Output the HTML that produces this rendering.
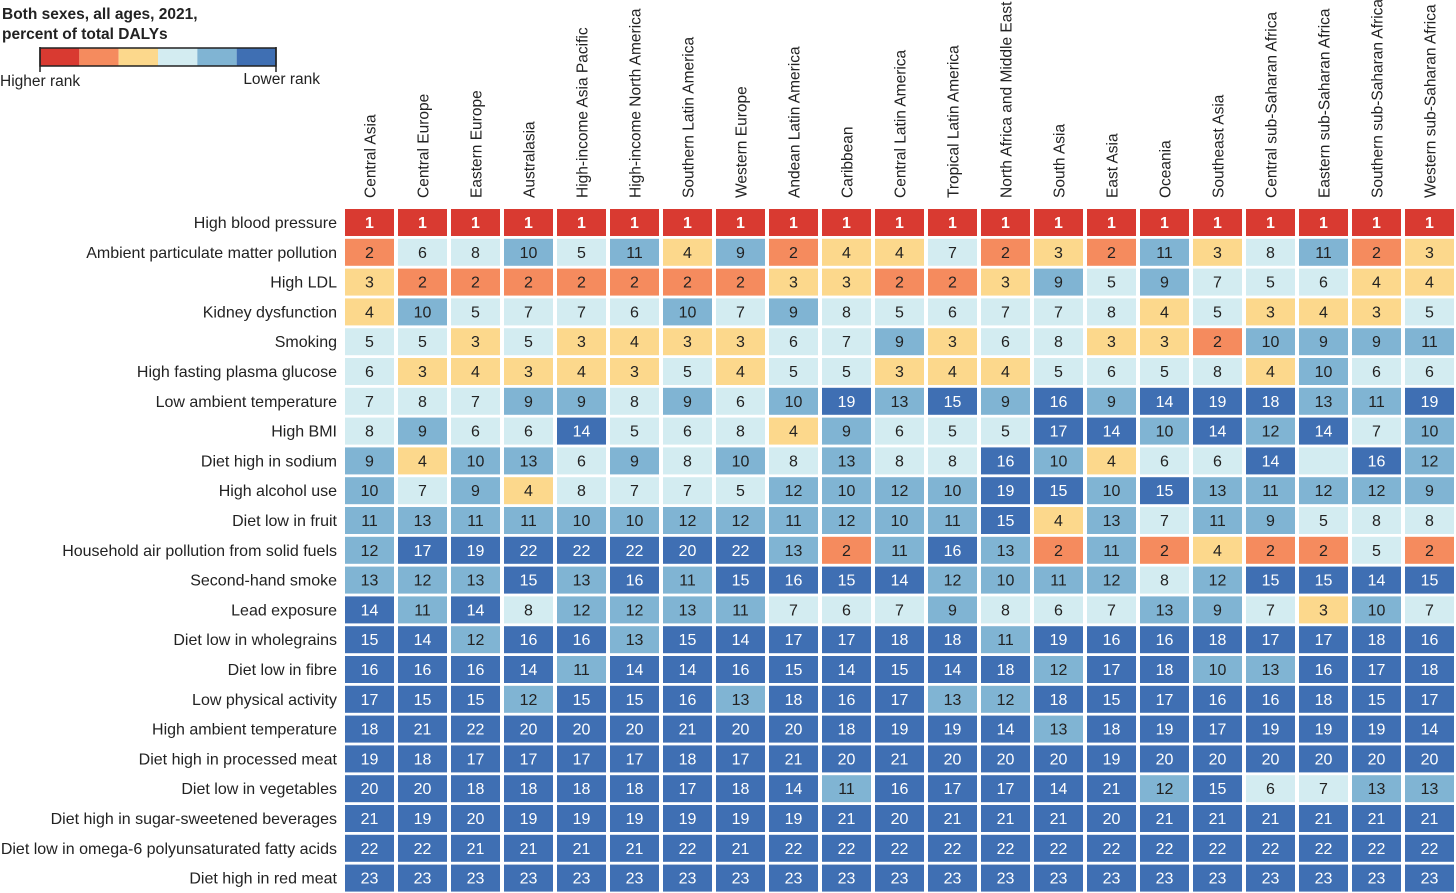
<!DOCTYPE html>
<html><head><meta charset="utf-8"><style>
body{margin:0;background:#fff;}
svg{display:block;font-family:"Liberation Sans",sans-serif;}
</style></head><body>
<svg id="chart" width="1456" height="893" xmlns="http://www.w3.org/2000/svg">
<g>
<text x="2" y="19" font-size="15.5" font-weight="bold" fill="#222">Both sexes, all ages, 2021,</text>
<text x="2" y="39" font-size="15.5" font-weight="bold" fill="#222">percent of total DALYs</text>
<g id="legbar"></g>
<line x1="40" y1="47" x2="40" y2="72" stroke="#222" stroke-width="1.5"/>
<line x1="276" y1="47" x2="276" y2="72" stroke="#222" stroke-width="1.5"/>
<text x="0" y="86" font-size="15.5" fill="#222">Higher rank</text>
<text x="320" y="84" font-size="15.5" fill="#222" text-anchor="end">Lower rank</text>
</g>
<g id="cells"></g>
</svg>
<script>
const regions=["Central Asia","Central Europe","Eastern Europe","Australasia","High-income Asia Pacific","High-income North America","Southern Latin America","Western Europe","Andean Latin America","Caribbean","Central Latin America","Tropical Latin America","North Africa and Middle East","South Asia","East Asia","Oceania","Southeast Asia","Central sub-Saharan Africa","Eastern sub-Saharan Africa","Southern sub-Saharan Africa","Western sub-Saharan Africa"];
const risks=["High blood pressure","Ambient particulate matter pollution","High LDL","Kidney dysfunction","Smoking","High fasting plasma glucose","Low ambient temperature","High BMI","Diet high in sodium","High alcohol use","Diet low in fruit","Household air pollution from solid fuels","Second-hand smoke","Lead exposure","Diet low in wholegrains","Diet low in fibre","Low physical activity","High ambient temperature","Diet high in processed meat","Diet low in vegetables","Diet high in sugar-sweetened beverages","Diet low in omega-6 polyunsaturated fatty acids","Diet high in red meat"];
const ranks=[
[1,1,1,1,1,1,1,1,1,1,1,1,1,1,1,1,1,1,1,1,1],
[2,6,8,10,5,11,4,9,2,4,4,7,2,3,2,11,3,8,11,2,3],
[3,2,2,2,2,2,2,2,3,3,2,2,3,9,5,9,7,5,6,4,4],
[4,10,5,7,7,6,10,7,9,8,5,6,7,7,8,4,5,3,4,3,5],
[5,5,3,5,3,4,3,3,6,7,9,3,6,8,3,3,2,10,9,9,11],
[6,3,4,3,4,3,5,4,5,5,3,4,4,5,6,5,8,4,10,6,6],
[7,8,7,9,9,8,9,6,10,19,13,15,9,16,9,14,19,18,13,11,19],
[8,9,6,6,14,5,6,8,4,9,6,5,5,17,14,10,14,12,14,7,10],
[9,4,10,13,6,9,8,10,8,13,8,8,16,10,4,6,6,14,null,16,12],
[10,7,9,4,8,7,7,5,12,10,12,10,19,15,10,15,13,11,12,12,9],
[11,13,11,11,10,10,12,12,11,12,10,11,15,4,13,7,11,9,5,8,8],
[12,17,19,22,22,22,20,22,13,2,11,16,13,2,11,2,4,2,2,5,2],
[13,12,13,15,13,16,11,15,16,15,14,12,10,11,12,8,12,15,15,14,15],
[14,11,14,8,12,12,13,11,7,6,7,9,8,6,7,13,9,7,3,10,7],
[15,14,12,16,16,13,15,14,17,17,18,18,11,19,16,16,18,17,17,18,16],
[16,16,16,14,11,14,14,16,15,14,15,14,18,12,17,18,10,13,16,17,18],
[17,15,15,12,15,15,16,13,18,16,17,13,12,18,15,17,16,16,18,15,17],
[18,21,22,20,20,20,21,20,20,18,19,19,14,13,18,19,17,19,19,19,14],
[19,18,17,17,17,17,18,17,21,20,21,20,20,20,19,20,20,20,20,20,20],
[20,20,18,18,18,18,17,18,14,11,16,17,17,14,21,12,15,6,7,13,13],
[21,19,20,19,19,19,19,19,19,21,20,21,21,21,20,21,21,21,21,21,21],
[22,22,21,21,21,21,22,21,22,22,22,22,22,22,22,22,22,22,22,22,22],
[23,23,23,23,23,23,23,23,23,23,23,23,23,23,23,23,23,23,23,23,23]];
const palette=["#d93a31","#f58b5e","#fcd88c","#d3ecf1","#80b4d3","#3f6fb3"];
function colorIdx(v){if(v==null)return 3;if(v===1)return 0;if(v===2)return 1;if(v<=4)return 2;if(v<=8)return 3;if(v<=13)return 4;return 5;}
const X0=345,PX=53,CW=49,Y0=209,PY=29.8,CH=27;
const xPos=i=>X0+i*PX, yPos=j=>Y0+j*PY;
const NS="http://www.w3.org/2000/svg";
const svg=document.getElementById('cells');
function mk(t,a){const e=document.createElementNS(NS,t);for(const k in a)e.setAttribute(k,a[k]);return e;}
const lb=document.getElementById('legbar');
palette.forEach((c,i)=>{const r=mk('rect',{x:40+i*236/6,y:48,width:236/6,height:18,fill:c});

lb.appendChild(r);});
lb.appendChild(mk('rect',{x:40,y:48,width:236,height:18,fill:'none',stroke:'#222','stroke-width':1.5}));
regions.forEach((r,i)=>{const t=mk('text',{transform:`translate(${xPos(i)+CW/2+6},198) rotate(-90)`,'font-size':15.5,fill:'#222'});
t.textContent=r;

svg.appendChild(t);});
risks.forEach((r,j)=>{const t=mk('text',{x:337,y:yPos(j)+CH/2+5.5,'font-size':16,fill:'#222','text-anchor':'end'});
t.textContent=r;

svg.appendChild(t);
ranks[j].forEach((v,i)=>{const ci=colorIdx(v);
const rc=mk('rect',{x:xPos(i),y:yPos(j),width:CW,height:CH,fill:palette[ci]});

svg.appendChild(rc);
if(v!=null){const tx=mk('text',{x:xPos(i)+CW/2,y:yPos(j)+CH/2+5.5,'font-size':16,'text-anchor':'middle',fill:(ci===0||ci===5)?'#fff':'#222','font-weight':ci===0?'bold':'normal'});
tx.textContent=v;

svg.appendChild(tx);}
});});
</script>
</body></html>
